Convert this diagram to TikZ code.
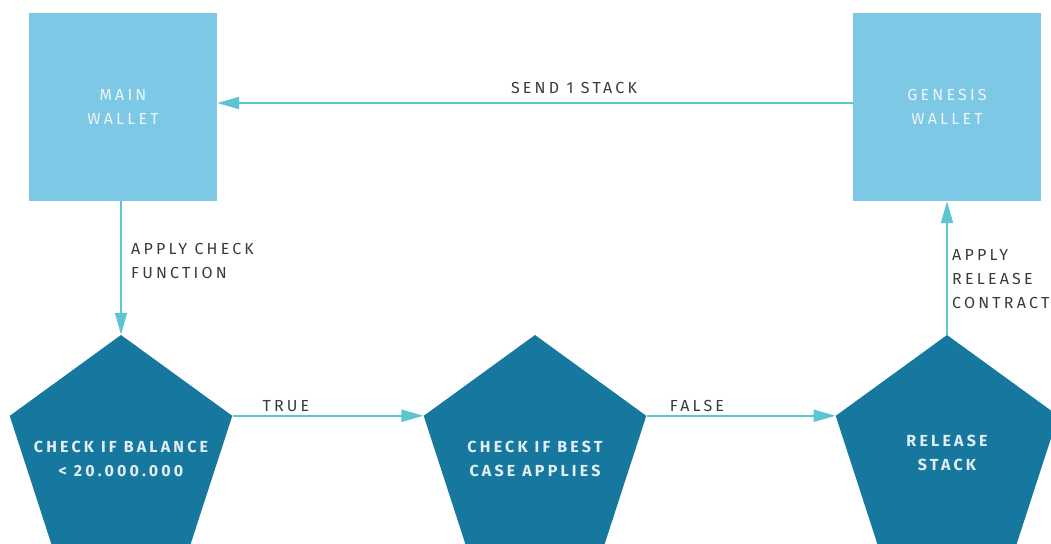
\documentclass[tikz,border=0pt]{standalone}
\usepackage{fontspec}
\setmainfont{Fira Sans}[LetterSpace=20]
\usetikzlibrary{shapes.geometric,arrows.meta}
\definecolor{boxblue}{HTML}{7DC9E5}
\definecolor{pentblue}{HTML}{16789E}
\definecolor{arrowblue}{HTML}{5DC4D2}
\definecolor{boxtext}{HTML}{EEF6FA}
\definecolor{penttext}{HTML}{E3EEF2}
\definecolor{labeltext}{HTML}{3A3A3A}
\tikzset{
  wallet/.style={fill=boxblue, draw=none, minimum size=188pt, inner sep=0pt, align=center, text=boxtext, font={\fontsize{16}{24}\selectfont}},
  pent/.style={regular polygon, regular polygon sides=5, fill=pentblue, draw=none, minimum size=234pt, inner sep=0pt},
  penttxt/.style={align=center, text=penttext, font={\fontsize{16}{24}\selectfont\bfseries}},
  lbl/.style={align=left, text=labeltext, font={\fontsize{16}{24}\selectfont}, inner sep=0pt},
  arr/.style={draw=arrowblue, line width=2pt, -{Triangle[length=22pt,width=12pt]}, shorten >=0pt}
}
\begin{document}
\begin{tikzpicture}[x=1pt,y=-1pt]
\useasboundingbox (0,0) rectangle (1051,543);
\clip (0,0) rectangle (1051,543);
\node[wallet] (main) at (123,107) {MAIN\\WALLET};
\node[wallet] (gen) at (947,107) {GENESIS\\WALLET};
\node[pent] (p1) at (121,452) {};
\node[pent] (p2) at (535,452) {};
\node[pent] (p3) at (947,452) {};
\node[penttxt] (t1) at (121,459) {CHECK IF BALANCE\\< 20.000.000};
\node[penttxt] (t2) at (535,459) {CHECK IF BEST\\CASE APPLIES};
\node[penttxt] (t3) at (947,453) {RELEASE\\STACK};
\draw[arr] ([yshift=4pt]gen.west) -- ([yshift=4pt]main.east);
\draw[arr] (main.south -| p1.corner 1) -- (p1.corner 1);
\draw[arr] (p1.corner 5) -- (p2.corner 2);
\draw[arr] (p2.corner 5) -- (p3.corner 2);
\draw[arr] (p3.corner 1) -- (gen.south -| p3.corner 1);
\node[lbl] (l1) at (574,88) {SEND 1 STACK};
\node[lbl, anchor=west] (l2) at (131,260.5) {APPLY CHECK\\FUNCTION};
\node[lbl] (l3) at (286,406) {TRUE};
\node[lbl] (l4) at (697,406) {FALSE};
\node[lbl, anchor=west] (l5) at (952,279) {APPLY\\RELEASE\\CONTRACT};
\end{tikzpicture}
\end{document}
